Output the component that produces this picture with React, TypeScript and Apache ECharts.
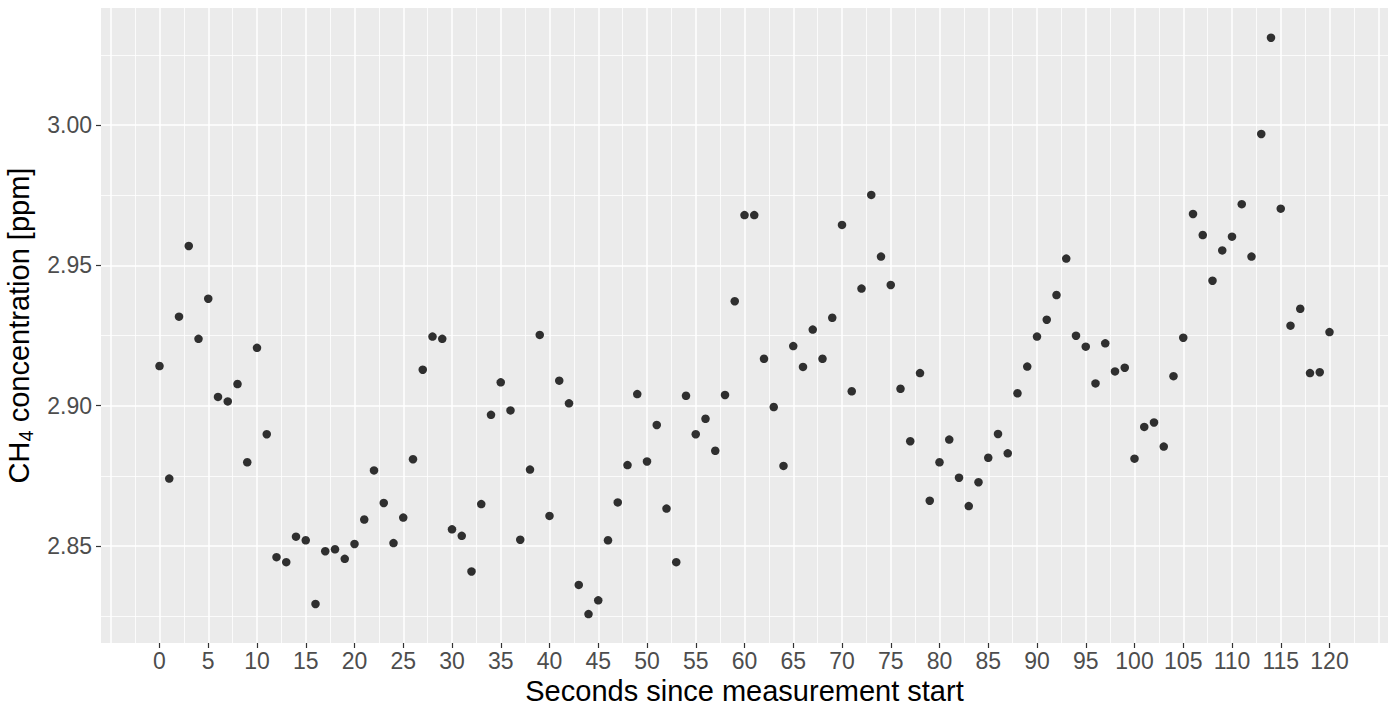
import React, { useEffect, useRef } from "react";
import * as echarts from "echarts";

// Seconds since measurement start (x values)
const seconds = [
  0, 1, 2, 3, 4, 5, 6, 7, 8, 9,
  10, 11, 12, 13, 14, 15, 16, 17, 18, 19,
  20, 21, 22, 23, 24, 25, 26, 27, 28, 29,
  30, 31, 32, 33, 34, 35, 36, 37, 38, 39,
  40, 41, 42, 43, 44, 45, 46, 47, 48, 49,
  50, 51, 52, 53, 54, 55, 56, 57, 58, 59,
  60, 61, 62, 63, 64, 65, 66, 67, 68, 69,
  70, 71, 72, 73, 74, 75, 76, 77, 78, 79,
  80, 81, 82, 83, 84, 85, 86, 87, 88, 89,
  90, 91, 92, 93, 94, 95, 96, 97, 98, 99,
  100, 101, 102, 103, 104, 105, 106, 107, 108, 109,
  110, 111, 112, 113, 114, 115, 116, 117, 118, 119,
  120,
];

// CH4 concentration [ppm]
const ch4 = [
  2.9141, 2.874, 2.9317, 2.9569, 2.9238, 2.9381, 2.9031, 2.9015, 2.9077, 2.8798,
  2.9206, 2.8898, 2.846, 2.8442, 2.8533, 2.852, 2.8293, 2.8481, 2.8488, 2.8454,
  2.8507, 2.8594, 2.8769, 2.8653, 2.851, 2.8601, 2.8809, 2.9128, 2.9246, 2.9238,
  2.8559, 2.8536, 2.8409, 2.8649, 2.8967, 2.9083, 2.8983, 2.8522, 2.8772, 2.9252,
  2.8607, 2.9089, 2.9008, 2.8361, 2.8257, 2.8306, 2.852, 2.8655, 2.8788, 2.9041,
  2.8801, 2.8931, 2.8633, 2.8442, 2.9035, 2.8898, 2.8953, 2.8839, 2.9038, 2.9372,
  2.9679, 2.9679, 2.9167, 2.8995, 2.8785, 2.9212, 2.9138, 2.9271, 2.9167, 2.9313,
  2.9644, 2.9051, 2.9417, 2.9751, 2.9531, 2.943, 2.906, 2.8873, 2.9116, 2.8661,
  2.8798, 2.8879, 2.8743, 2.8642, 2.8727, 2.8814, 2.8899, 2.883, 2.9044, 2.9139,
  2.9246, 2.9306, 2.9394, 2.9524, 2.9249, 2.921, 2.9079, 2.9222, 2.9122, 2.9135,
  2.8811, 2.8924, 2.894, 2.8854, 2.9105, 2.9242, 2.9683, 2.9608, 2.9445, 2.9553,
  2.9602, 2.9718, 2.9531, 2.9968, 3.0311, 2.9702, 2.9285, 2.9345, 2.9116, 2.9119,
  2.9262,
];

const xTickValues = [0, 5, 10, 15, 20, 25, 30, 35, 40, 45, 50, 55, 60, 65, 70, 75, 80, 85, 90, 95, 100, 105, 110, 115, 120];
const xMajorGrid = [-5, 0, 5, 10, 15, 20, 25, 30, 35, 40, 45, 50, 55, 60, 65, 70, 75, 80, 85, 90, 95, 100, 105, 110, 115, 120, 125];
const xMinorGrid = [-2.5, 2.5, 7.5, 12.5, 17.5, 22.5, 27.5, 32.5, 37.5, 42.5, 47.5, 52.5, 57.5, 62.5, 67.5, 72.5, 77.5, 82.5, 87.5, 92.5, 97.5, 102.5, 107.5, 112.5, 117.5, 122.5];
const yTickValues = [2.85, 2.9, 2.95, 3.0];
const yMinorGrid = [2.825, 2.875, 2.925, 2.975, 3.025];
const xRange = [-6, 126];
const yRange = [2.8154, 3.0417];

const FONT = "'Liberation Sans', Arial, sans-serif";

export default function App() {
  const ref = useRef<HTMLDivElement>(null);

  useEffect(() => {
    if (!ref.current) return;
    const chart = echarts.init(ref.current, undefined, { renderer: "svg" });

    const hiddenAxis = (values: number[], width: number, range: number[]) => ({
      type: "value",
      min: range[0],
      max: range[1],
      axisLine: { show: false, onZero: false },
      axisTick: { show: false, customValues: values },
      axisLabel: { show: false, customValues: values },
      splitLine: { show: true, lineStyle: { color: "#FFFFFF", width } },
    });

    const option: any = {
      animation: false,
      backgroundColor: "#FFFFFF",
      textStyle: { fontFamily: FONT },
      grid: {
        left: 101,
        right: 0,
        top: 8,
        bottom: 66,
        show: true,
        backgroundColor: "#EBEBEB",
        borderWidth: 0,
        containLabel: false,
        outerBoundsMode: "none",
      },
      xAxis: [
        {
          type: "value",
          position: "bottom",
          min: xRange[0],
          max: xRange[1],
          axisLine: { show: false, onZero: false },
          axisTick: {
            show: true,
            customValues: xTickValues,
            length: 5,
            lineStyle: { color: "#333333", width: 1.2 },
          },
          axisLabel: {
            show: true,
            customValues: xTickValues,
            fontSize: 23,
            color: "#4D4D4D",
            fontFamily: FONT,
            margin: 6,
          },
          splitLine: { show: false },
          name: "Seconds since measurement start",
          nameLocation: "middle",
          nameGap: 30,
          nameTextStyle: { fontSize: 29, color: "#000000", fontFamily: FONT },
        },
        hiddenAxis(xMajorGrid, 1.5, xRange),
        hiddenAxis(xMinorGrid, 0.8, xRange),
      ],
      yAxis: [
        {
          type: "value",
          position: "left",
          min: yRange[0],
          max: yRange[1],
          axisLine: { show: false, onZero: false },
          axisTick: {
            show: true,
            customValues: yTickValues,
            length: 5,
            lineStyle: { color: "#333333", width: 1.2 },
          },
          axisLabel: {
            show: true,
            customValues: yTickValues,
            fontSize: 23,
            color: "#4D4D4D",
            fontFamily: FONT,
            margin: 9,
            formatter: (v: number) => v.toFixed(2),
          },
          splitLine: { show: false },
          name: "{a|CH}{b|4}{a| concentration [ppm]}",
          nameLocation: "middle",
          nameRotate: 90,
          nameGap: 62,
          nameTextStyle: {
            color: "#000000",
            fontFamily: FONT,
            fontSize: 29,
            rich: {
              a: { fontSize: 29, color: "#000000", fontFamily: FONT, lineHeight: 34 },
              b: { fontSize: 20, color: "#000000", fontFamily: FONT, lineHeight: 20, verticalAlign: "bottom" },
            },
          },
        },
        hiddenAxis(yTickValues, 1.5, yRange),
        hiddenAxis(yMinorGrid, 0.8, yRange),
      ],
      series: [
        {
          type: "scatter",
          xAxisIndex: 0,
          yAxisIndex: 0,
          symbol: "circle",
          symbolSize: 8.5,
          itemStyle: { color: "#000000" },
          z: 10,
          data: seconds.map((s, i) => [s, ch4[i]]),
        },
      ],
    };

    chart.setOption(option);
    return () => chart.dispose();
  }, []);

  return (
    <div
      ref={ref}
      style={{ position: "absolute", left: 0, top: 0, width: 1388, height: 709 }}
    />
  );
}
